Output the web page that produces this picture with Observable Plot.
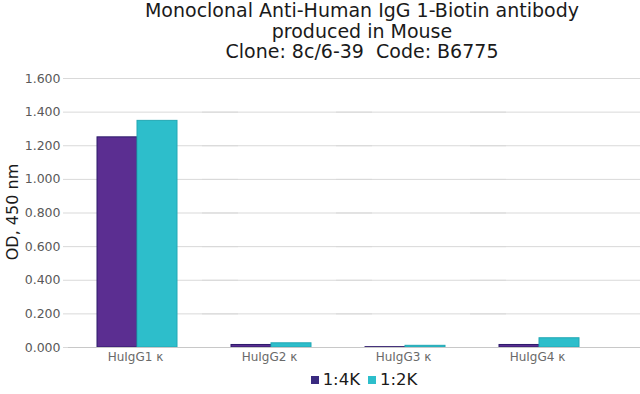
<!DOCTYPE html>
<html>
<head>
<meta charset="utf-8">
<script src="https://cdn.jsdelivr.net/npm/d3@7"></script>
<script src="https://cdn.jsdelivr.net/npm/@observablehq/plot@0.6"></script>
<style>
  body { margin: 0; background: #fff; font-family: "DejaVu Sans", Verdana, sans-serif; }
  #wrap { width: 640px; height: 394px; position: relative; overflow: hidden; }
  #title { padding: 0 0 0 84px; width: 556px; text-align: center; font-size: 19px; line-height: 20.5px; color: #1a1a1a; height: 66px; white-space: nowrap; }
  #legend { display: flex; justify-content: center; align-items: center; padding-left: 88px; width: 552px; font-size: 16.5px; color: #1a1a1a; margin-top: 6px; }
  .sw { display: inline-block; width: 8px; height: 8px; margin-right: 4px; }
  .item { display: flex; align-items: center; margin: 0 4px; }
</style>
</head>
<body>
<div id="wrap">
  <div id="title">Monoclonal Anti-Human IgG 1-Biotin antibody<br>produced in Mouse<br>Clone: 8c/6-39&nbsp;&nbsp;Code: B6775</div>
  <div id="chart"></div>
  <div id="legend"></div>
</div>
<script>
const groups = ["HuIgG1 κ", "HuIgG2 κ", "HuIgG3 κ", "HuIgG4 κ"];
const seriesNames = ["1:4K", "1:2K"];
const values4K = [1.250, 0.015, 0.002, 0.015];
const values2K = [1.348, 0.025, 0.010, 0.055];
const yTicks = [0, 0.2, 0.4, 0.6, 0.8, 1.0, 1.2, 1.4, 1.6];
const fills = ["#5b2e91", "#2dbecb"];
const strokes = ["#2c1a6b", "#22a8b4"];
const legendSwatch = ["#3a2a80", "#2dbecb"];

const data = [];
groups.forEach((g, i) => {
  data.push({group: g, series: seriesNames[0], value: values4K[i]});
  data.push({group: g, series: seriesNames[1], value: values2K[i]});
});

const chart = Plot.plot({
  width: 640,
  height: 298,
  marginTop: 12,
  marginLeft: 67,
  marginRight: 36,
  marginBottom: 17,
  style: {fontFamily: "DejaVu Sans, Verdana, sans-serif", fontSize: "12px", color: "#595959", background: "#fff"},
  fx: {domain: groups, padding: 0, label: null, axis: null},
  x: {domain: seriesNames, paddingInner: 0, paddingOuter: 0.675, axis: null},
  y: {domain: [0, 1.6], ticks: yTicks, axis: null},
  color: {domain: seriesNames, range: fills},
  marks: [
    Plot.ruleY(yTicks.filter(d => d > 0), {stroke: "#d9d9d9", strokeWidth: 1, insetRight: -36}),
    Plot.barY(data, {
      fx: "group", x: "series", y: "value",
      fill: "series",
      stroke: d => strokes[seriesNames.indexOf(d.series)],
      strokeWidth: 1,
      dx: 2
    }),
    Plot.ruleY([0], {stroke: "#c8c8c8", strokeWidth: 1.2, insetRight: -36}),
    Plot.axisY({ticks: yTicks, tickFormat: d3.format(".3f"), tickSize: 5, tickPadding: 3, stroke: "#d9d9d9", fill: "#595959", fontSize: 12.5, label: null}),
    Plot.axisFx({anchor: "bottom", tickSize: 0, tickPadding: 5, fontSize: 12, fill: "#6a6a6a", label: null})
  ]
});
document.getElementById("chart").appendChild(chart);

// y axis title as real SVG text
const svgNS = "http://www.w3.org/2000/svg";
const t = document.createElementNS(svgNS, "text");
t.setAttribute("transform", "translate(18,146) rotate(-90)");
t.setAttribute("text-anchor", "middle");
t.setAttribute("font-size", "16");
t.setAttribute("fill", "#1a1a1a");
t.setAttribute("font-family", "DejaVu Sans, Verdana, sans-serif");
t.textContent = "OD, 450 nm";
chart.appendChild(t);

const legend = document.getElementById("legend");
seriesNames.forEach((s, i) => {
  const item = document.createElement("span");
  item.className = "item";
  const sw = document.createElement("span");
  sw.className = "sw";
  sw.style.background = legendSwatch[i];
  item.appendChild(sw);
  item.appendChild(document.createTextNode(s));
  legend.appendChild(item);
});
</script>
</body>
</html>
